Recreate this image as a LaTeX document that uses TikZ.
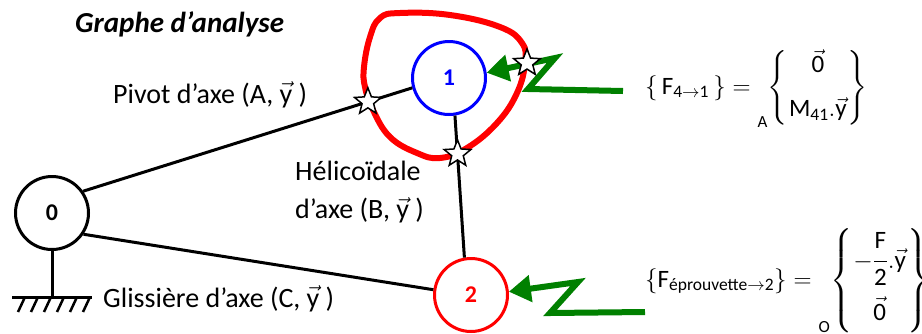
\RequirePackage{fix-cm}
\documentclass[tikz,border=0pt]{standalone}
\usepackage{amsmath}
\usepackage{fontspec}
\setmainfont{Carlito}
\usetikzlibrary{shapes.geometric,arrows.meta}
\definecolor{boltgreen}{RGB}{0,128,0}

\begin{document}
\begin{tikzpicture}[x=1pt,y=-1pt,
    part/.style={circle,draw,line width=3pt,minimum size=73pt,inner sep=0pt,
      font=\fontsize{24}{28}\selectfont\bfseries},
    link/.style={line width=3pt},
    jointstar/.style={star,star points=5,star point ratio=2.3,minimum size=28pt,
      inner sep=0pt,draw=black,fill=white,line width=1.5pt},
    bolt/.style={boltgreen,line width=6pt,-{Triangle[length=22pt,width=26pt]}},
    lbl/.style={font=\fontsize{28}{38}\selectfont,inner sep=0pt},
    torsor/.style={font=\fontsize{25}{30}\selectfont,inner sep=0pt,anchor=base west}]
    \useasboundingbox (0,0) rectangle (922,333);
    % Title
    \node[lbl,anchor=base west,font=\fontsize{29}{33}\selectfont\bfseries\itshape] (title) at (75,32) {Graphe d’analyse};
    % Isolated set
    \draw[red,line width=6pt] plot[smooth cycle,tension=0.7] coordinates {(380,18) (400,13) (450,15) (500,27) (522,43) (525,63) (517,93) (497,123) (467,148) (440,158) (417,153) (390,137) (373,110) (365,87) (364,67) (370,37)};
    % Parts
    \node[part] (n0) at (52,213) {0};
    \node[part,blue] (n1) at (449,78) {1};
    \node[part,red] (n2) at (471,295) {2};
    % Links
    \draw[link] (n0.35) -- (n1.195) node[jointstar,pos=0.865] (s01) {};
    \draw[link] (n1.-81) -- (n2.100) node[jointstar,pos=0.27] (s12) {};
    \draw[link] (n0.-34) -- (n2.172);
    % Ground
    \coordinate (g0) at (52,297);
    \draw[link] (n0.south) -- (g0);
    \draw[link] (12,297) -- (92,297);
    \foreach \x in {25,38,...,90}
        \draw[line width=2.5pt] (\x,297) -- ++(-7,15);
    % External actions
    \coordinate (f1) at (623,91);
    \coordinate (f2) at (645,312);
    \draw[bolt] (f1) -- (528,89) -- (555,58) -- (n1.8);
    \draw[bolt] (f2) -- (550,313) -- (578,282) -- (n2.5);
    \node[jointstar] (s41) at (527,63) {};
    % Link labels
    \node[lbl,anchor=base west] (lpivot) at (113,103) {Pivot d’axe (A, $\vec{\text{y}}$ )};
    \node[lbl,anchor=west,align=left] (lhelico) at (295,192) {Hélicoïdale\\d’axe (B, $\vec{\text{y}}$ )};
    \node[lbl,anchor=base west] (lgliss) at (103,307) {Glissière d’axe (C, $\vec{\text{y}}$ )};
    % Torsors
    \node[torsor] (torseur1) at (645,94) {$\arraycolsep=1pt\left\{\,\text{F}_{\text{4}\rightarrow\text{1}}\,\right\} = {}_{\raisebox{-30pt}{\fontsize{17}{20}\selectfont A}}\!\left\{\begin{array}{c}\vec{\text{0}}\\[14pt] \text{M}_{\text{41}}.\vec{\text{y}}\end{array}\right\}$};
    \node[torsor] (torseur2) at (645,287) {$\arraycolsep=1pt\left\{\text{F}_{\text{éprouvette}\rightarrow\text{2}}\right\} = {}_{\raisebox{-42pt}{\fontsize{17}{20}\selectfont O}}\!\left\{\begin{array}{c}-\dfrac{\text{F}\rule[-10pt]{0pt}{10pt}}{\text{2}}.\vec{\text{y}}\\[20pt] \vec{\text{0}}\end{array}\right\}$};
\end{tikzpicture}
\end{document}
